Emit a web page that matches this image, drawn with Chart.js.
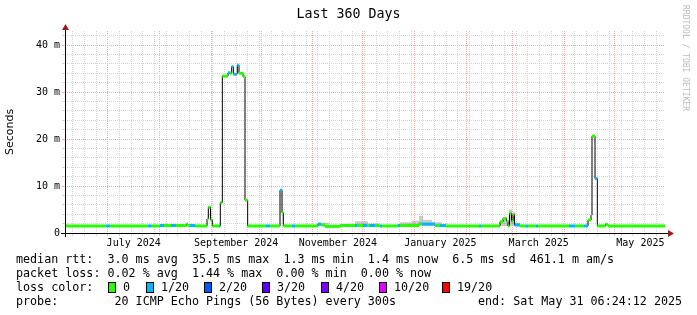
<!DOCTYPE html>
<html>
<head>
<meta charset="utf-8">
<script src="https://cdn.jsdelivr.net/npm/chart.js"></script>
<style>
  body{margin:0;background:#fff;}
  #wrap{position:relative;width:697px;height:315px;font-family:"DejaVu Sans Mono",monospace;color:#000;overflow:hidden;}
  #c{position:absolute;left:0;top:0;}
  .t{position:absolute;white-space:pre;font-size:11.7px;line-height:14px;}
  .box{position:absolute;box-sizing:border-box;width:8px;height:11px;border:1px solid #000;top:282px;}
  #rrd{position:absolute;left:681px;top:5px;writing-mode:vertical-rl;font-size:8px;color:#bbb;white-space:pre;}
</style>
</head>
<body>
<div id="wrap">
<canvas id="c" width="697" height="315"></canvas>
<div class="t" style="left:0;width:697px;text-align:center;top:6px;font-size:13.3px;line-height:16px;">Last 360 Days</div>
<div id="rrd">RRDTOOL / TOBI OETIKER</div>
<div class="t" style="left:16px;top:252px;">median rtt:  3.0 ms avg  35.5 ms max  1.3 ms min  1.4 ms now  6.5 ms sd  461.1 m am/s</div>
<div class="t" style="left:16px;top:266px;">packet loss: 0.02 % avg  1.44 % max  0.00 % min  0.00 % now</div>
<div class="t" style="left:16px;top:280px;">loss color:</div>
<div id="losslegend"></div>
<div class="t" style="left:16px;top:294px;">probe:        20 ICMP Echo Pings (56 Bytes) every 300s</div>
<div class="t" style="left:478px;top:294px;">end: Sat May 31 06:24:12 2025</div>
</div>

<script>
// loss legend
const lossNames = ['0', '1/20', '2/20', '3/20', '4/20', '10/20', '19/20']
const lossColors = ['#26ff00', '#00b8ff', '#0059ff', '#5e00ff', '#7e00ff', '#dd00ff', '#ff0000']
const lossBoxX = [108, 146, 204, 262, 321, 379, 442]

// x axis: days since start (Wed Jun 5 2024 06:24), 360 days total
const monthDays = [25.73, 56.73, 87.73, 117.73, 148.73, 178.73, 209.73, 240.73, 268.73, 299.73, 329.73]
const mondayFirst = 4.73
const labelDays = [41.23, 102.73, 163.73, 225.23, 284.23, 345.23]
const monthLabels = ['July 2024', 'September 2024', 'November 2024', 'January 2025', 'March 2025', 'May 2025']

// median rtt (ms), step levels: start day, value, loss index
const medDays = [0, 0.9, 24.6, 27.0, 49.8, 51.9, 57.0, 59.4, 63.6, 66.6, 72.9, 73.8, 75.0, 78.0,
  85.2, 86.0, 87.3, 88.4, 92.6, 93.2, 94.4, 97.8, 99.0, 100.0, 101.0, 103.0, 103.4, 104.4, 106.8, 108.0, 109.6,
  120.6, 123.0, 129.0, 130.2, 131.0, 136.2, 138.0, 151.8, 153.6, 156.0, 165.0, 174.0, 175.2, 178.8, 181.2,
  183.0, 186.0, 189.0, 190.2, 199.8, 201.0, 212.4, 214.2, 222.0, 225.0, 228.6, 248.4, 249.6,
  261.0, 262.8, 264.9, 265.8, 266.7, 267.9, 268.8, 269.7, 273.0, 276.6, 277.8, 282.6, 283.8,
  302.4, 306.0, 311.4, 313.8, 315.6, 316.2, 318.0, 319.4, 324.3, 325.8]
const medMs = [1.6, 1.5, 1.5, 1.5, 1.5, 1.5, 1.6, 1.6, 1.6, 1.6, 1.9, 1.6, 1.6, 1.5,
  3.0, 5.5, 2.8, 1.5, 1.5, 6.5, 33.4, 34.1, 34.0, 35.4, 33.8, 33.9, 35.7, 34.0, 33.3, 7.0, 1.5,
  1.5, 1.5, 9.1, 4.3, 1.5, 1.5, 1.5, 1.9, 1.7, 1.4, 1.6, 1.6, 1.6, 1.6, 1.6,
  1.6, 1.6, 1.5, 1.5, 1.6, 1.6, 2.0, 1.9, 1.6, 1.6, 1.5, 1.5, 1.5,
  2.4, 3.1, 2.5, 1.5, 4.2, 2.5, 4.0, 1.7, 1.5, 1.5, 1.5, 1.5, 1.5,
  1.5, 1.5, 1.5, 2.8, 3.8, 20.6, 11.6, 1.5, 1.85, 1.5]
const medLoss = [0, 0, 1, 0, 1, 0, 1, 0, 1, 0, 0, 0, 1, 0,
  0, 0, 0, 0, 1, 0, 0, 1, 0, 1, 1, 0, 1, 0, 0, 0, 0,
  1, 0, 1, 0, 0, 1, 0, 1, 0, 0, 0, 1, 0, 1, 0,
  1, 0, 1, 0, 1, 0, 0, 1, 0, 1, 0, 1, 0,
  0, 0, 0, 0, 0, 0, 0, 1, 0, 1, 0, 1, 0,
  1, 0, 1, 0, 1, 0, 1, 0, 0, 0]

// smoke (upper edge of ping spread, ms)
const smokeDays = [0, 150.6, 153.6, 158.4, 168.0, 174.0, 181.8, 189.0, 201.0, 208.2, 212.4, 214.8, 220.2, 226.2,
  261.0, 262.8, 264.6, 266.4, 268.2, 268.8, 270.0, 273.0]
const smokeMs = [1.5, 2.0, 2.2, 1.8, 1.9, 2.5, 2.0, 1.5, 2.3, 2.6, 3.6, 2.8, 2.3, 1.5,
  2.7, 3.4, 2.8, 5.0, 3.0, 4.4, 2.2, 1.5]

lossNames.forEach((n, i) => {
  const b = document.createElement('div')
  b.className = 'box'
  b.style.left = lossBoxX[i] + 'px'
  b.style.background = lossColors[i]
  document.getElementById('losslegend').appendChild(b)
  const t = document.createElement('div')
  t.className = 't'
  t.style.left = (lossBoxX[i] + 15) + 'px'
  t.style.top = '280px'
  t.textContent = n
  document.getElementById('losslegend').appendChild(t)
})

const weekDays = []
for (let d = mondayFirst; d < 360; d += 7) weekDays.push(d)

const colorData = []
medDays.forEach((d, i) => {
  const end = i + 1 < medDays.length ? medDays[i + 1] : 360
  colorData.push({x: d, y: medMs[i]}, {x: end, y: medMs[i]})
})
const blackData = medDays.map((d, i) => ({x: d, y: medMs[i]}))
blackData.push({x: 360, y: medMs[medMs.length - 1]})
const smokeData = smokeDays.map((d, i) => ({x: d, y: smokeMs[i]}))
smokeData.push({x: 360, y: smokeMs[smokeMs.length - 1]})

const RED = '#f5a8a8'
const GRAY = '#d4d4d4'
const NONE = 'rgba(0,0,0,0)'
const nLabelStart = weekDays.length + monthDays.length

// grid: months red, mondays gray, label-only ticks invisible
const xGridColor = ctx => {
  if (ctx.type !== 'tick' || ctx.index >= nLabelStart) return NONE
  if (ctx.index >= weekDays.length) return RED
  return GRAY
}
const yGridColor = ctx => {
  if (ctx.type !== 'tick' || ctx.tick.value === 0) return NONE
  return ctx.tick.value % 10 === 0 ? RED : GRAY
}

// axes arrows, like rrdtool
const arrows = {
  id: 'arrows',
  afterDraw(chart) {
    const {ctx, chartArea: a} = chart
    const yb = Math.round(a.bottom) + 0.5
    const xl = Math.round(a.left) + 0.5
    ctx.save()
    ctx.strokeStyle = '#000'
    ctx.lineWidth = 1
    ctx.beginPath()
    ctx.moveTo(a.left - 4, yb); ctx.lineTo(a.right + 4, yb)
    ctx.moveTo(xl, a.bottom + 4); ctx.lineTo(xl, a.top - 2)
    ctx.stroke()
    ctx.fillStyle = '#9c1c1c'
    ctx.beginPath()
    ctx.moveTo(a.right + 3, yb - 3.5); ctx.lineTo(a.right + 9, yb); ctx.lineTo(a.right + 3, yb + 3.5)
    ctx.fill()
    ctx.beginPath()
    ctx.moveTo(xl - 3.5, a.top - 1); ctx.lineTo(xl, a.top - 7); ctx.lineTo(xl + 3.5, a.top - 1)
    ctx.fill()
    ctx.restore()
  }
}

new Chart(document.getElementById('c'), {
  type: 'line',
  data: {
    datasets: [
      {
        data: colorData,
        borderWidth: 3,
        pointRadius: 0,
        order: 0,
        segment: {
          borderColor: c => c.p0DataIndex % 2 ? NONE : lossColors[medLoss[c.p0DataIndex / 2]]
        }
      },
      {
        data: blackData,
        borderColor: '#000',
        borderWidth: 1,
        pointRadius: 0,
        stepped: true,
        order: 1
      },
      {
        data: smokeData,
        borderWidth: 0,
        borderColor: NONE,
        backgroundColor: 'rgba(140,140,140,0.45)',
        fill: {value: 1.5},
        pointRadius: 0,
        stepped: true,
        order: 2
      }
    ]
  },
  options: {
    responsive: false,
    animation: false,
    layout: {padding: {left: 0, top: 31, right: 32, bottom: 62}},
    plugins: {legend: {display: false}, title: {display: false}, tooltip: {enabled: false}},
    scales: {
      x: {
        type: 'linear',
        min: 0,
        max: 360,
        afterFit(s) { s.height = 20 },
        afterBuildTicks(s) {
          s.ticks = [...weekDays, ...monthDays, ...labelDays].map(v => ({value: v}))
        },
        grid: {color: xGridColor, tickColor: xGridColor, tickLength: 3},
        border: {display: false, dash: [1, 1]},
        ticks: {
          autoSkip: false,
          maxRotation: 0,
          padding: 1,
          color: '#000',
          font: {family: 'DejaVu Sans Mono', size: 10},
          callback: (v, i) => i >= nLabelStart ? monthLabels[i - nLabelStart] : ''
        }
      },
      y: {
        min: 0,
        max: 43,
        afterFit(s) { s.width = 65 },
        afterBuildTicks(s) {
          const t = []
          for (let v = 0; v <= 42; v += 2) t.push({value: v})
          s.ticks = t
        },
        grid: {color: yGridColor, tickColor: yGridColor, tickLength: 3},
        border: {display: false, dash: [1, 1]},
        title: {
          display: true,
          text: 'Seconds',
          color: '#000',
          font: {family: 'DejaVu Sans', size: 11},
          padding: {top: 4, bottom: 0}
        },
        ticks: {
          autoSkip: false,
          padding: 2,
          color: '#000',
          font: {family: 'DejaVu Sans Mono', size: 10},
          callback: v => v === 0 ? '0' : (v % 10 === 0 ? v + ' m' : '')
        }
      }
    }
  },
  plugins: [arrows]
})
</script>
</body>
</html>
